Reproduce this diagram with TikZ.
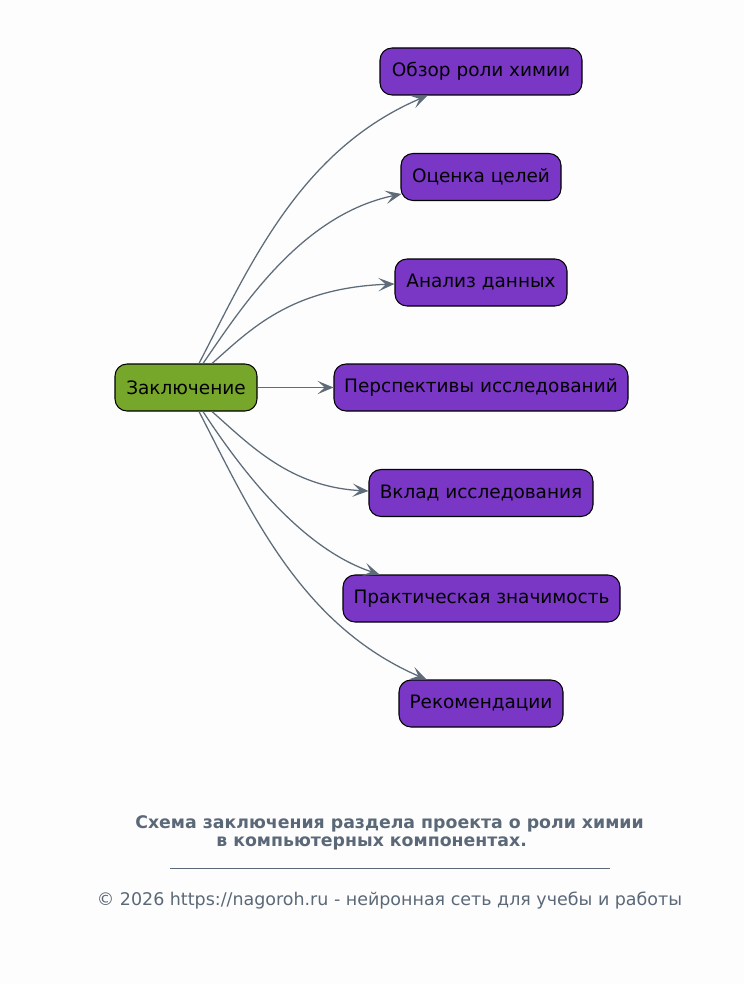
\documentclass[tikz,border=0pt]{standalone}
\usepackage{fontspec}
\setmainfont{DejaVu Sans}
\usetikzlibrary{arrows.meta,calc}
\definecolor{bgc}{RGB}{253,253,253}
\definecolor{nodepurple}{RGB}{122,54,196}
\definecolor{rootgreen}{RGB}{119,167,42}
\definecolor{edgec}{RGB}{94,108,122}
\definecolor{capc}{RGB}{90,104,120}
\tikzset{
  box/.style={draw=black, line width=0.8pt, rounded corners=9pt, inner sep=0pt,
    minimum height={47*0.75pt}, text=black, font=\fontsize{13.85}{16}\selectfont},
  leaf/.style={box, fill=nodepurple},
  rootbox/.style={box, fill=rootgreen},
  edge/.style={draw=edgec, line width=0.95pt,
    -{Stealth[length=12pt, width=10pt, inset=5.5pt]}},
}
\begin{document}
\begin{tikzpicture}[x=0.75pt, y=-0.75pt]
\fill[bgc] (0,0) rectangle (744,984);
\useasboundingbox (0,0) rectangle (744,984);

\node[rootbox, minimum width={142*0.75pt}] (root) at (186,387.5) {Заключение};
\node[leaf, minimum width={202*0.75pt}] (t1) at (481,71.5) {Обзор роли химии};
\node[leaf, minimum width={160*0.75pt}] (t2) at (481,177) {Оценка целей};
\node[leaf, minimum width={172*0.75pt}] (t3) at (481,282.5) {Анализ данных};
\node[leaf, minimum width={294*0.75pt}] (t4) at (481,387.5) {Перспективы исследований};
\node[leaf, minimum width={224*0.75pt}] (t5) at (481,493) {Вклад исследования};
\node[leaf, minimum width={277*0.75pt}] (t6) at (481.5,598.5) {Практическая значимость};
\node[leaf, minimum width={164*0.75pt}] (t7) at (481,703.5) {Рекомендации};

\draw[edge] ([xshift=9.75pt]root.north) .. controls (250,265) and (300,150) .. ([xshift=36pt]t1.south west);
\draw[edge] ([xshift=12.75pt]root.north) .. controls (240,310) and (300,215) .. ([xshift=0.75pt,yshift=-12.75pt]t2.west);
\draw[edge] ([xshift=19.5pt]root.north) .. controls (250,330) and (290,288) .. ([yshift=-1.1pt]t3.west);
\draw[edge] (root.east) -- (t4.west);
\draw[edge] ([xshift=19.5pt]root.south) .. controls (250,445) and (290,487) .. ([yshift=1.5pt]t5.west);
\draw[edge] ([xshift=12.75pt]root.south) .. controls (240,468) and (300,548) .. ([xshift=27.75pt]t6.north west);
\draw[edge] ([xshift=9.75pt]root.south) .. controls (250,510) and (300,625) .. ([xshift=21pt]t7.north west);

\node[anchor=base, text=capc, font=\fontsize{13}{15}\selectfont\bfseries] (cap1) at (389.5,828) {Схема заключения раздела проекта о роли химии};
\node[anchor=base west, text=capc, font=\fontsize{13}{15}\selectfont\bfseries, inner sep=0pt] (cap2) at (216,846) {в компьютерных компонентах.};
\coordinate (ruleA) at (170,868);
\coordinate (ruleB) at (610,868);
\draw[capc, line width=0.6pt] (ruleA) -- (ruleB);
\node[anchor=base, text=capc, font=\fontsize{13.1}{15}\selectfont] (copy) at (389.5,905) {© 2026 https://nagoroh.ru - нейронная сеть для учебы и работы};
\end{tikzpicture}
\end{document}
